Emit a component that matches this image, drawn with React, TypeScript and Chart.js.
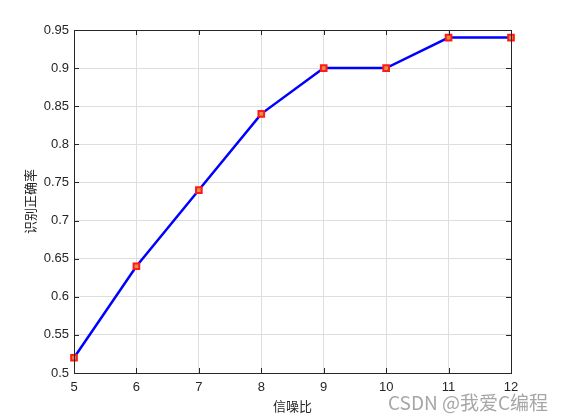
import React, { useEffect, useRef } from "react";
import { Chart, registerables } from "chart.js";

Chart.register(...registerables);

const snrValues = [5, 6, 7, 8, 9, 10, 11, 12];
const accuracy = [0.52, 0.64, 0.74, 0.84, 0.9, 0.9, 0.94, 0.94];
const xTicks = [5, 6, 7, 8, 9, 10, 11, 12];
const yTicks = [0.5, 0.55, 0.6, 0.65, 0.7, 0.75, 0.8, 0.85, 0.9, 0.95];
const yTickLabels = ["0.5", "0.55", "0.6", "0.65", "0.7", "0.75", "0.8", "0.85", "0.9", "0.95"];
const xLabel = "信噪比";
const yLabel = "识别正确率";
const watermark = "CSDN @我爱C编程";

const axisColor = "#262626";
const tickFont = { family: "'Liberation Sans', Arial, sans-serif", size: 13 };
const cjkFont = "'Noto Sans CJK SC', sans-serif";

const boxPlugin = {
  id: "matlabBox",
  afterDraw(chart: any) {
    const { ctx, chartArea } = chart;
    const { left, right, top, bottom } = chartArea;
    const xs = chart.scales.x;
    const ys = chart.scales.y;
    ctx.save();
    ctx.strokeStyle = axisColor;
    ctx.lineWidth = 1;
    ctx.strokeRect(Math.round(left) + 0.5, Math.round(top) + 0.5, Math.round(right - left), Math.round(bottom - top));
    const tl = 5;
    ctx.beginPath();
    xTicks.forEach((v) => {
      const px = Math.round(xs.getPixelForValue(v)) + 0.5;
      ctx.moveTo(px, bottom);
      ctx.lineTo(px, bottom - tl);
      ctx.moveTo(px, top);
      ctx.lineTo(px, top + tl);
    });
    yTicks.forEach((v) => {
      const py = Math.round(ys.getPixelForValue(v)) + 0.5;
      ctx.moveTo(left, py);
      ctx.lineTo(left + tl, py);
      ctx.moveTo(right, py);
      ctx.lineTo(right - tl, py);
    });
    ctx.stroke();
    ctx.font = `19px ${cjkFont}`;
    ctx.fillStyle = "rgba(150,150,150,0.85)";
    ctx.textBaseline = "middle";
    ctx.textAlign = "left";
    ctx.fillText(watermark, 388, 403);
    ctx.restore();
  },
};

export default function App() {
  const ref = useRef<HTMLCanvasElement | null>(null);
  useEffect(() => {
    if (!ref.current) return;
    const chart = new Chart(ref.current, {
      type: "line",
      data: {
        datasets: [
          {
            data: snrValues.map((x, i) => ({ x, y: accuracy[i] })),
            borderColor: "#0000ff",
            borderWidth: 2.5,
            pointStyle: "rect",
            pointRadius: 4,
            pointBorderColor: "#ff1a1a",
            pointBackgroundColor: "#e09040",
            pointBorderWidth: 2,
            tension: 0,
            clip: false as any,
          },
        ],
      },
      options: {
        animation: false,
        responsive: true,
        maintainAspectRatio: false,
        layout: { padding: { top: 30, right: 50, left: 0, bottom: 0 } },
        plugins: { legend: { display: false }, tooltip: { enabled: false } },
        scales: {
          x: {
            type: "linear",
            min: 5,
            max: 12,
            afterBuildTicks: (s: any) => {
              s.ticks = xTicks.map((v) => ({ value: v }));
            },
            afterFit: (s: any) => {
              s.height = 45;
            },
            grid: { color: "#dedede", drawTicks: false, tickLength: 0 },
            border: { display: false },
            ticks: { color: axisColor, font: tickFont, padding: 7, maxRotation: 0 },
            title: {
              display: true,
              text: xLabel,
              color: axisColor,
              font: { family: cjkFont, size: 13 },
              padding: { top: 0, bottom: 4 },
            },
          },
          y: {
            type: "linear",
            min: 0.5,
            max: 0.95,
            afterBuildTicks: (s: any) => {
              s.ticks = yTicks.map((v) => ({ value: v }));
            },
            afterFit: (s: any) => {
              s.width = 74;
            },
            grid: { color: "#dedede", drawTicks: false, tickLength: 0 },
            border: { display: false },
            ticks: {
              color: axisColor,
              font: tickFont,
              padding: 5,
              callback: (v: any) => {
                const i = yTicks.findIndex((t) => Math.abs(t - v) < 1e-6);
                return i >= 0 ? yTickLabels[i] : "";
              },
            },
            title: {
              display: true,
              text: yLabel,
              color: axisColor,
              font: { family: cjkFont, size: 13 },
              padding: { top: 22, bottom: 0 },
            },
          },
        },
      },
      plugins: [boxPlugin],
    });
    return () => chart.destroy();
  }, []);
  return (
    <div style={{ position: "fixed", left: 0, top: 0, width: 561, height: 418, background: "#fff" }}>
      <canvas ref={ref} />
    </div>
  );
}
